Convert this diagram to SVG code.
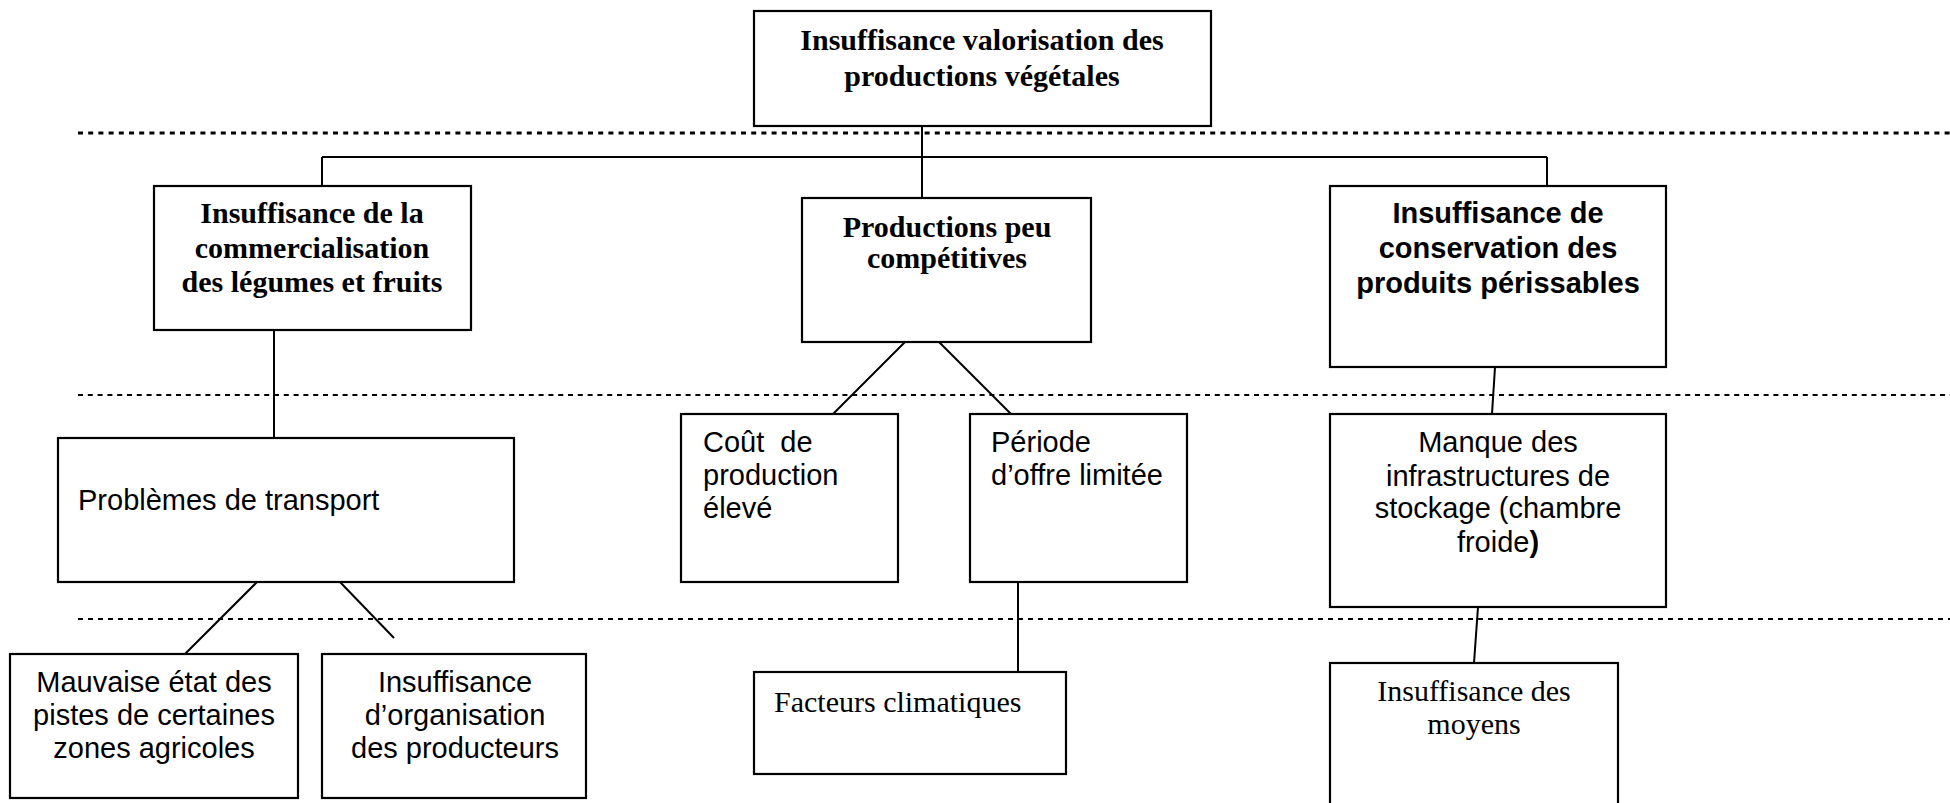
<svg xmlns="http://www.w3.org/2000/svg" width="1950" height="803" viewBox="0 0 1950 803">
  <style>
    .box { fill: #ffffff; stroke: #000000; stroke-width: 2.2; }
    .conn line { stroke: #000000; stroke-width: 2; fill: none; }
    .sep { stroke: #000000; fill: none; }
    .sb { font-family: "Liberation Serif", "Times New Roman", serif; font-weight: bold; font-size: 30px; fill: #000; }
    .sr { font-family: "Liberation Serif", "Times New Roman", serif; font-size: 30px; fill: #000; }
    .ab { font-family: "Liberation Sans", Arial, sans-serif; font-weight: bold; font-size: 29px; fill: #000; }
    .ar { font-family: "Liberation Sans", Arial, sans-serif; font-size: 29px; fill: #000; }
    .c { text-anchor: middle; }
  </style>
  <rect width="1950" height="803" fill="#ffffff"/>

  <g id="separators">
    <line class="sep" x1="78" y1="133" x2="1950" y2="133" stroke-width="3" stroke-dasharray="5 5.2"/>
    <line class="sep" x1="78" y1="395" x2="1950" y2="395" stroke-width="2" stroke-dasharray="5 4.8"/>
    <line class="sep" x1="78" y1="619" x2="1950" y2="619" stroke-width="2" stroke-dasharray="5 5"/>
  </g>

  <g id="connectors" class="conn">
    <line x1="922" y1="126" x2="922" y2="198"/>
    <line x1="322" y1="157" x2="1547" y2="157"/>
    <line x1="322" y1="157" x2="322" y2="186"/>
    <line x1="1547" y1="157" x2="1547" y2="186"/>
    <line x1="274" y1="330" x2="274" y2="438"/>
    <line x1="905" y1="342" x2="833" y2="414"/>
    <line x1="939" y1="342" x2="1011" y2="414"/>
    <line x1="1495" y1="367" x2="1492" y2="414"/>
    <line x1="257" y1="582" x2="185" y2="654"/>
    <line x1="340" y1="582" x2="394" y2="638"/>
    <line x1="1018" y1="582" x2="1018" y2="672"/>
    <line x1="1478" y1="607" x2="1474" y2="663"/>
  </g>

  <g id="node-top">
    <rect class="box" x="754" y="11" width="457" height="115"/>
    <text class="sb c" x="982" y="50">Insuffisance valorisation des</text>
    <text class="sb c" x="982" y="86">productions végétales</text>
  </g>

  <g id="node-commercialisation">
    <rect class="box" x="154" y="186" width="317" height="144"/>
    <text class="sb c" x="312" y="223">Insuffisance de la</text>
    <text class="sb c" x="312" y="258">commercialisation</text>
    <text class="sb c" x="312" y="292">des légumes et fruits</text>
  </g>

  <g id="node-competitives">
    <rect class="box" x="802" y="198" width="289" height="144"/>
    <text class="sb c" x="947" y="237">Productions peu</text>
    <text class="sb c" x="947" y="268">compétitives</text>
  </g>

  <g id="node-conservation">
    <rect class="box" x="1330" y="186" width="336" height="181"/>
    <text class="ab c" x="1498" y="223">Insuffisance de</text>
    <text class="ab c" x="1498" y="258">conservation des</text>
    <text class="ab c" x="1498" y="293">produits périssables</text>
  </g>

  <g id="node-transport">
    <rect class="box" x="58" y="438" width="456" height="144"/>
    <text class="ar" x="78" y="510">Problèmes de transport</text>
  </g>

  <g id="node-cout">
    <rect class="box" x="681" y="414" width="217" height="168"/>
    <text class="ar" x="703" y="452" xml:space="preserve">Coût  de</text>
    <text class="ar" x="703" y="485">production</text>
    <text class="ar" x="703" y="518">élevé</text>
  </g>

  <g id="node-periode">
    <rect class="box" x="970" y="414" width="217" height="168"/>
    <text class="ar" x="991" y="452">Période</text>
    <text class="ar" x="991" y="485">d’offre limitée</text>
  </g>

  <g id="node-stockage">
    <rect class="box" x="1330" y="414" width="336" height="193"/>
    <text class="ar c" x="1498" y="452">Manque des</text>
    <text class="ar c" x="1498" y="486">infrastructures de</text>
    <text class="ar c" x="1498" y="518">stockage (chambre</text>
    <text class="ar c" x="1498" y="552">froide<tspan font-weight="bold">)</tspan></text>
  </g>

  <g id="node-pistes">
    <rect class="box" x="10" y="654" width="288" height="144"/>
    <text class="ar c" x="154" y="692">Mauvaise état des</text>
    <text class="ar c" x="154" y="725">pistes de certaines</text>
    <text class="ar c" x="154" y="758">zones agricoles</text>
  </g>

  <g id="node-organisation">
    <rect class="box" x="322" y="654" width="264" height="144"/>
    <text class="ar c" x="455" y="692">Insuffisance</text>
    <text class="ar c" x="455" y="725">d’organisation</text>
    <text class="ar c" x="455" y="758">des producteurs</text>
  </g>

  <g id="node-climat">
    <rect class="box" x="754" y="672" width="312" height="102"/>
    <text class="sr" x="774" y="712">Facteurs climatiques</text>
  </g>

  <g id="node-moyens">
    <rect class="box" x="1330" y="663" width="288" height="160"/>
    <text class="sr c" x="1474" y="701">Insuffisance des</text>
    <text class="sr c" x="1474" y="734">moyens</text>
  </g>
</svg>
